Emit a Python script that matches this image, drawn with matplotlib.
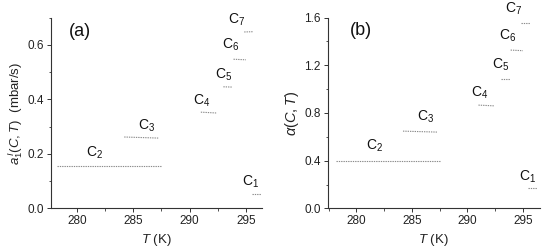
import matplotlib
matplotlib.use("Agg")
import matplotlib.pyplot as plt
from matplotlib.ticker import MultipleLocator

plt.rcParams['font.family'] = ['Liberation Sans', 'DejaVu Sans']
plt.rcParams['mathtext.fontset'] = 'custom'
plt.rcParams['mathtext.rm'] = 'Liberation Sans'
plt.rcParams['mathtext.it'] = 'Liberation Sans:italic'
plt.rcParams['mathtext.cal'] = 'Liberation Sans:italic'

# segment names
names = ["C1", "C2", "C3", "C4", "C5", "C6", "C7"]
# temperature range of each segment (start, end) in K
t_start = [295.5, 278.2, 284.2, 291.0, 293.0, 293.9, 294.85]
t_end = [296.3, 287.5, 287.3, 292.4, 293.8, 295.0, 295.65]
# panel (a): a1(C,T) in mbar/s, at start and end of segment
a_start = [0.054, 0.156, 0.262, 0.353, 0.446, 0.547, 0.647]
a_end = [0.054, 0.156, 0.258, 0.350, 0.445, 0.545, 0.648]
# panel (b): alpha(C,T)
b_start = [0.171, 0.402, 0.648, 0.866, 1.087, 1.327, 1.552]
b_end = [0.171, 0.402, 0.640, 0.860, 1.087, 1.322, 1.552]
# label positions
lab_t = [295.4, 281.6, 286.2, 291.1, 293.0, 293.6, 294.2]
lab_a = [0.099, 0.203, 0.303, 0.396, 0.490, 0.600, 0.692]
lab_b = [0.269, 0.521, 0.768, 0.969, 1.202, 1.445, 1.670]

fig = plt.figure(figsize=(5.5, 2.49), dpi=100)
ax1 = fig.add_axes([0.0927, 0.1627, 0.3831, 0.767])
ax2 = fig.add_axes([0.5955, 0.1627, 0.3864, 0.767])

def style(ax, ylim, ymaj, ymin, xlim):
    ax.set_xlim(*xlim)
    ax.set_ylim(*ylim)
    ax.spines['top'].set_visible(False)
    ax.spines['right'].set_visible(False)
    for s in ('left', 'bottom'):
        ax.spines[s].set_linewidth(0.8)
        ax.spines[s].set_color('#333333')
    ax.xaxis.set_major_locator(MultipleLocator(5))
    ax.xaxis.set_minor_locator(MultipleLocator(2.5))
    ax.yaxis.set_major_locator(MultipleLocator(ymaj))
    ax.yaxis.set_minor_locator(MultipleLocator(ymin))
    ax.tick_params(which='major', direction='out', length=3, width=0.7,
                   labelsize=8.5, colors='#333333', labelcolor='#222222', pad=2)
    ax.tick_params(which='minor', direction='out', length=1.8, width=0.6, colors='#333333')
    ax.set_xlabel(r"$T$ (K)", fontsize=9.5, color='#222222', labelpad=3)

style(ax1, (0, 0.70), 0.2, 0.1, (277.7, 296.4))
style(ax2, (0, 1.6), 0.4, 0.2, (277.4, 296.55))
ax1.yaxis.set_major_formatter(plt.FuncFormatter(lambda v, p: f"{v:.1f}"))
ax2.yaxis.set_major_formatter(plt.FuncFormatter(lambda v, p: f"{v:.1f}"))

for ax, ys, ye, ly in ((ax1, a_start, a_end, lab_a), (ax2, b_start, b_end, lab_b)):
    for n, t0, t1, y0, y1, tx, tyv in zip(names, t_start, t_end, ys, ye, lab_t, ly):
        ax.plot([t0, t1], [y0, y1], color='#8a8a8a', lw=0.8,
                linestyle=(0, (1.2, 0.9)), solid_capstyle='butt')
        ax.text(tx, tyv, f"C$_{{{n[1]}}}$", fontsize=10, ha='center', va='center',
                color='#111111', clip_on=False)

ax1.set_ylabel(r"$a_1^{\,I}(C,T)$  (mbar/s)", fontsize=9.5, color='#222222', labelpad=2)
ax2.set_ylabel(r"$\alpha(C,T)$", fontsize=10.5, color='#222222', labelpad=2)
ax1.text(280.3, 0.649, "(a)", fontsize=13, ha='center', va='center', color='#111111')
ax2.text(280.4, 1.487, "(b)", fontsize=13, ha='center', va='center', color='#111111')

fig.savefig("out.png", dpi=100)
